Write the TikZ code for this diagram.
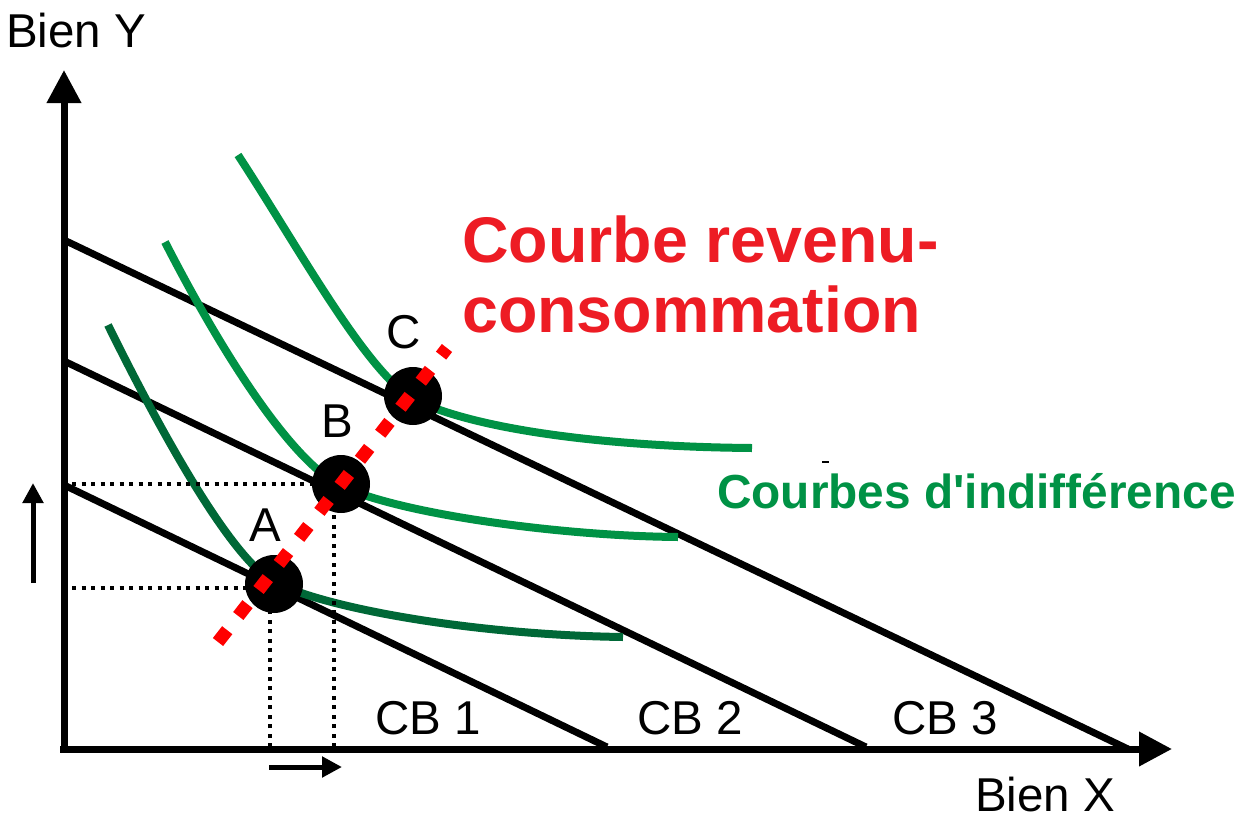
\documentclass[tikz,border=0pt]{standalone}
\usepackage{fontspec}
\setmainfont{Liberation Sans}[Ligatures=TeXOff]
\usetikzlibrary{arrows.meta}
\definecolor{crvred}{HTML}{ED1C24}
\definecolor{dashred}{HTML}{FF0000}
\definecolor{icgreen}{HTML}{009245}
\definecolor{icdark}{HTML}{006837}
\begin{document}
\begin{tikzpicture}[x=1pt,y=-1pt,
  axisline/.style={line width=7pt,-{Triangle[length=33pt,width=33pt]}},
  budget/.style={line width=7pt},
  icurve/.style={line width=8pt,icgreen},
  icurvedark/.style={line width=8pt,icdark},
  guide/.style={line width=3.5pt,dash pattern=on 4pt off 5.5pt},
  shiftarrow/.style={line width=5pt,-{Triangle[length=20pt,width=20pt]}},
  optpt/.style={circle,fill=black,minimum size=58pt,inner sep=0pt},
  lbl/.style={font=\fontsize{47.5}{56}\selectfont,inner sep=0pt},
  redlbl/.style={font=\fontsize{64.5}{70}\selectfont\bfseries,text=crvred,inner sep=0pt},
  greenlbl/.style={font=\fontsize{47.8}{56}\selectfont\bfseries,text=icgreen,inner sep=0pt},
  rcc/.style={line width=13pt,dashred,dash pattern=on 15pt off 18pt}]
\useasboundingbox (0,0) rectangle (1254,820);

% axes
\coordinate (ybot) at (64,753);
\coordinate (ytop) at (64,70);
\coordinate (xleft) at (60,749);
\coordinate (xright) at (1172,749);
\draw[axisline] (ybot) -- (ytop);
\draw[axisline] (xleft) -- (xright);

% budget lines
\coordinate (cb1a) at (64,485);  \coordinate (cb1b) at (607,747);
\coordinate (cb2a) at (64,361);  \coordinate (cb2b) at (866,747);
\coordinate (cb3a) at (64,240);  \coordinate (cb3b) at (1128,749);
\draw[budget] (cb1a) -- (cb1b);
\draw[budget] (cb2a) -- (cb2b);
\draw[budget] (cb3a) -- (cb3b);

% indifference curves
\draw[icurvedark] (108,325) .. controls (145,400) and (225,555) .. (274,582)
  .. controls (330,610) and (480,635) .. (623,637);
\draw[icurve] (165,242) .. controls (210,330) and (285,458) .. (341,486)
  .. controls (400,514) and (560,536) .. (678,537);
\draw[icurve] (238,155) .. controls (300,250) and (365,370) .. (413,399)
  .. controls (480,432) and (620,447) .. (752,448);

% guide lines
\coordinate (gyB) at (72,484);  \coordinate (gB) at (334,484);
\coordinate (gyA) at (72,588);  \coordinate (gA) at (270,588);
\coordinate (gxA) at (270,747); \coordinate (gxB) at (334,747);
\coordinate (gBv) at (334,500);
\draw[guide] (gyB) -- (gB);
\draw[guide] (gyA) -- (gA);
\draw[guide] (gxA) -- (gA);
\draw[guide] (gxB) -- (gBv);

% optimum points
\node[optpt] (A) at (274,584) {};
\node[optpt] (B) at (341,484) {};
\node[optpt] (C) at (413,396) {};

% income-consumption curve
\coordinate (rccs) at (218,642);
\coordinate (rcce) at (447,348);
\draw[rcc] (rccs) -- (rcce);

% shift arrows
\coordinate (upa) at (33,583);  \coordinate (upb) at (33,483);
\coordinate (ria) at (269,767); \coordinate (rib) at (342,767);
\draw[shiftarrow] (upa) -- (upb);
\draw[shiftarrow] (ria) -- (rib);

% stray mark
\coordinate (m1) at (822,462); \coordinate (m2) at (829,462);
\draw[line width=1.5pt] (m1) -- (m2);

% labels
\node[lbl,anchor=base west] (by) at (6,47) {Bien Y};
\node[lbl,anchor=base west] (bx) at (975,811) {Bien X};
\node[lbl] (la) at (265,525) {A};
\node[lbl] (lb) at (337,421) {B};
\node[lbl] (lc) at (404,332) {C};
\node[lbl,anchor=base west] (cb1) at (375,734) {CB 1};
\node[lbl,anchor=base west] (cb2) at (637,734) {CB 2};
\node[lbl,anchor=base west] (cb3) at (892,734) {CB 3};
\node[redlbl,anchor=base west] (rc1) at (462,262) {Courbe revenu-};
\node[redlbl,anchor=base west] (rc2) at (462,332) {consommation};
\node[greenlbl,anchor=base west] (ci) at (717,508) {Courbes d'indifférence};
\end{tikzpicture}
\end{document}
